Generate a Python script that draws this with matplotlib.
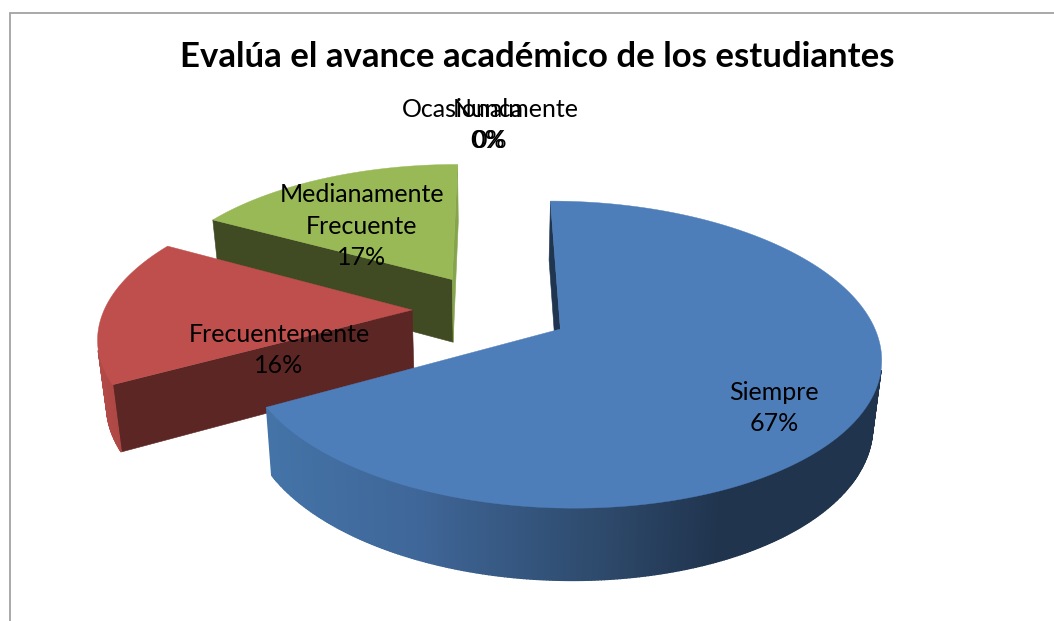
import numpy as np
import matplotlib
matplotlib.use("Agg")
import matplotlib.pyplot as plt
from matplotlib.patches import Polygon
from matplotlib.colors import to_rgb

# ---- data ----
title = "Evalúa el avance académico de los estudiantes"
categories = ["Siempre", "Frecuentemente", "Medianamente\nFrecuente", "Ocasionalmente", "Nunca"]
values = [67, 16, 17, 0, 0]

# ---- styles ----
top_colors = ["#4E7EBA", "#BE4F4C", "#98B955"]
cut_colors = ["#1F3550", "#5C2624", "#404A23"]
end_colors = ["#1F3550", "#5C2624", "#86A44C"]
wall_stops = [
    [(260, "#4474A8"), (420, "#3F6698"), (520, "#35567F"), (600, "#2E4A6C"), (720, "#20344E"), (900, "#20344E")],
    [(90, "#B54B48"), (130, "#A84644")],
    [(200, "#6E8A3C"), (470, "#6E8A3C")],
]
label_pos = [(774, 408), (279, 350), (362, 226), (490, 125), (488, 125)]

# ---- projection (perspective view of an exploded disc) ----
CX, CY = 491.0, 310.0
A, B = 308.0, 143.0
K = 0.163
EXPLODE = 0.256
DEPTH = 64.0
SHRINK = 0.977


def project(u, v):
    d = 1 + K * v
    return CX + A * u / d, CY - B * v / d


def project_bottom(u, v):
    d = 1 + K * v
    x, y = project(u, v)
    return CX + SHRINK * (x - CX), y + DEPTH / d ** 0.6


def signed_area(pts):
    p = np.asarray(pts)
    x, y = p[:, 0], p[:, 1]
    return np.sum(x * np.roll(y, -1) - np.roll(x, -1) * y)


def wall_color(stops, x):
    xs = [s[0] for s in stops]
    rgb = np.array([to_rgb(s[1]) for s in stops])
    return tuple(np.interp(x, xs, rgb[:, i]) for i in range(3))


fig = plt.figure(figsize=(10.54, 6.21), dpi=100)
ax = fig.add_axes([0, 0, 1, 1])
ax.set_xlim(0, 1054)
ax.set_ylim(621, 0)
ax.axis("off")

# chart frame
ax.plot([9.5, 9.5, 1054], [621, 12.5, 12.5], color="#A3A3A3", lw=1.3, solid_joinstyle="miter", zorder=0)

# ---- slices ----
total = sum(values)
slices = []
start = 0.0
for i, val in enumerate(values):
    sweep = 2 * np.pi * val / total
    if val > 0:
        slices.append((i, start, start + sweep))
    start += sweep

for i, t0, t1 in reversed(slices):
    mid = (t0 + t1) / 2
    ou, ov = EXPLODE * np.sin(mid), EXPLODE * np.cos(mid)
    th = np.linspace(t0, t1, max(int(np.degrees(t1 - t0) * 2), 8))
    u = ou + np.sin(th)
    v = ov + np.cos(th)
    tx, ty = project(u, v)
    bx, by = project_bottom(u, v)
    ax_, ay_ = project(ou, ov)
    abx, aby = project_bottom(ou, ov)

    # cut faces
    face0 = [(ax_, ay_), (tx[0], ty[0]), (bx[0], by[0]), (abx, aby)]
    if signed_area(face0) < 0:
        ax.add_patch(Polygon(face0, fc=cut_colors[i], ec=cut_colors[i], lw=0.4, zorder=1 + (2 - i)))
    face1 = [(ax_, ay_), (tx[-1], ty[-1]), (bx[-1], by[-1]), (abx, aby)]
    if signed_area(face1) > 0:
        ax.add_patch(Polygon(face1, fc=end_colors[i], ec=end_colors[i], lw=0.4, zorder=1 + (2 - i)))

    # outer wall
    for j in range(len(th) - 1):
        quad = [(tx[j], ty[j]), (tx[j + 1], ty[j + 1]), (bx[j + 1], by[j + 1]), (bx[j], by[j])]
        if signed_area(quad) < 0:
            c = wall_color(wall_stops[i], (tx[j] + tx[j + 1]) / 2)
            ax.add_patch(Polygon(quad, fc=c, ec=c, lw=1.0, zorder=1 + (2 - i)))

    # top surface
    pts = np.column_stack([np.r_[ax_, tx], np.r_[ay_, ty]])
    ax.add_patch(Polygon(pts, fc=top_colors[i], ec=top_colors[i], lw=0.3, zorder=1.5 + (2 - i)))

# ---- text ----
ax.text(537.5, 57, title, ha="center", va="center", fontsize=25, fontweight="bold",
        family="Lato", color="black", zorder=10)
for cat, val, (lx, ly) in zip(categories, values, label_pos):
    ax.text(lx, ly, f"{cat}\n{val}%", ha="center", va="center", fontsize=18, family="Lato",
            color="black", linespacing=1.45, zorder=10)

fig.savefig("out.png", dpi=100, facecolor="white")
